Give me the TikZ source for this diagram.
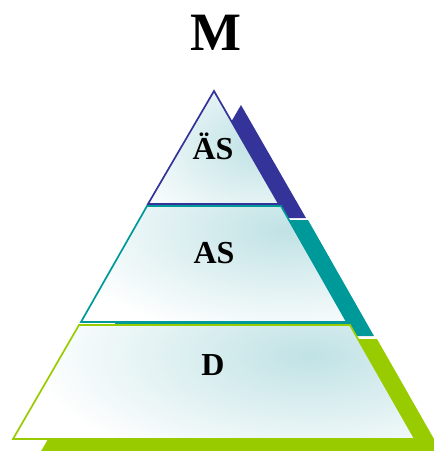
\documentclass[tikz,border=0pt]{standalone}
\usepackage{fontspec}
\setmainfont{Liberation Serif}

\definecolor{layerblue}{RGB}{51,51,153}
\definecolor{layerteal}{RGB}{0,153,153}
\definecolor{layergreen}{RGB}{153,204,0}
\definecolor{glow}{RGB}{192,226,229}

% Contours des couches
\newcommand{\layerTop}{(214,91) -- (279,204) -- (148,204) -- cycle}
\newcommand{\layerMid}{(147,206) -- (281,206) -- (347,322) -- (81,322) -- cycle}
\newcommand{\layerBot}{(79,325) -- (350,325) -- (415,439) -- (13,439) -- cycle}

\tikzset{
  layershadow/.style={fill=#1, shift={(27,14)}},
  layeredge/.style={draw=#1, line width=1.7pt},
  layerlabel/.style={font=\bfseries\fontsize{32}{32}\selectfont, anchor=base},
}

\begin{document}
\begin{tikzpicture}[x=1pt, y=-1pt]
    \useasboundingbox (0,0) rectangle (434,451);

    % Titre
    \node[font=\bfseries\fontsize{54}{54}\selectfont, anchor=base] (title) at (216,50) {M};

    % Ombres
    \path[layershadow=layergreen] \layerBot;
    \path[layershadow=layerteal] \layerMid;
    \path[layershadow=layerblue] \layerTop;

    % Couche du bas
    \begin{scope}
        \clip \layerBot;
        \fill[white] \layerBot;
        \shade[inner color=glow, outer color=white] (310,355) ellipse (280 and 120);
    \end{scope}
    \path[layeredge=layergreen] \layerBot;

    % Couche du milieu
    \begin{scope}
        \clip \layerMid;
        \fill[white] \layerMid;
        \shade[inner color=glow, outer color=white] (285,230) ellipse (230 and 110);
    \end{scope}
    \path[layeredge=layerteal] \layerMid;

    % Couche du haut
    \begin{scope}
        \clip \layerTop;
        \fill[white] \layerTop;
        \shade[inner color=glow, outer color=white] (255,145) ellipse (140 and 100);
    \end{scope}
    \path[layeredge=layerblue] \layerTop;

    % Etiquettes
    \node[layerlabel] (top) at (213,159) {ÄS};
    \node[layerlabel] (mid) at (214,263) {AS};
    \node[layerlabel] (bot) at (213,375) {D};
\end{tikzpicture}
\end{document}
